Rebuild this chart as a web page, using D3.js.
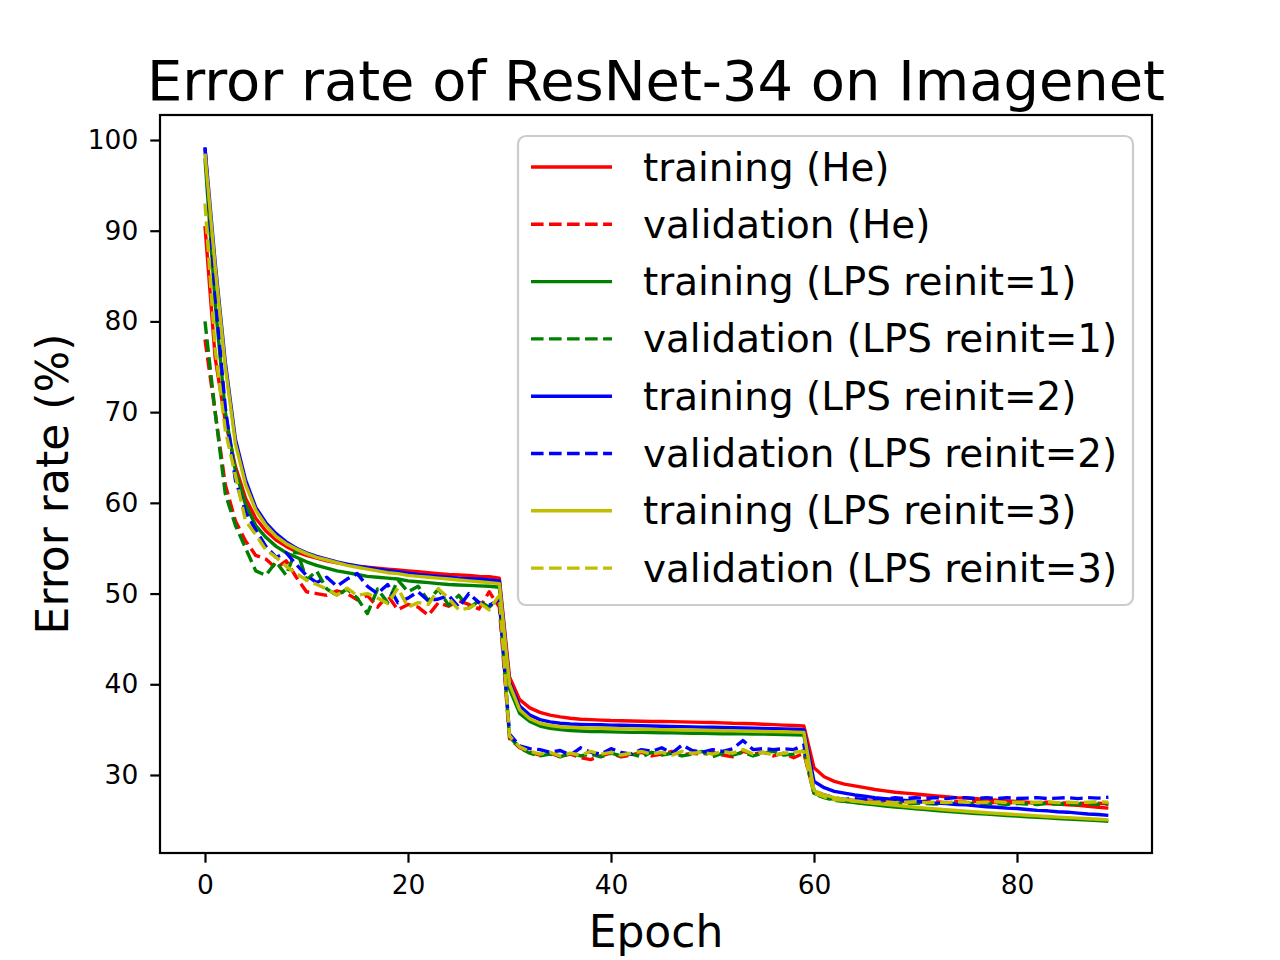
<!DOCTYPE html>
<html>
<head>
<meta charset="utf-8">
<script src="https://cdn.jsdelivr.net/npm/d3@7.9.0/dist/d3.min.js"></script>
<style>
  body { margin: 0; background: #fff; }
  svg { display: block; font-family: "DejaVu Sans", sans-serif; }
</style>
</head>
<body>
<svg id="chart" width="1280" height="960"></svg>
<script>
// epochs 0..89
const epochs = d3.range(90);

const trainHe = [
  90.5, 76, 69, 64, 60.5, 58.3, 56.9, 55.9, 55.2, 54.6, 54.2, 53.9, 53.6, 53.4, 53.2, 53.0, 52.9, 52.8, 52.7, 52.6, 52.5, 52.4, 52.3, 52.2, 52.1, 52.05, 52.0, 51.9, 51.85, 51.7,
  40.8, 38.3, 37.4, 36.9, 36.6, 36.4, 36.25, 36.15, 36.1, 36.05, 36.0, 35.98, 35.95, 35.93, 35.9, 35.9, 35.88, 35.85, 35.83, 35.8, 35.78, 35.75, 35.7, 35.68, 35.65, 35.6, 35.55, 35.5, 35.45, 35.4,
  30.8, 29.8, 29.3, 29.0, 28.8, 28.6, 28.4, 28.25, 28.1, 28.0, 27.9, 27.8, 27.7, 27.6, 27.5, 27.45, 27.38, 27.3, 27.22, 27.15, 27.08, 27.0, 26.93, 26.86, 26.8, 26.72, 26.65, 26.55, 26.45, 26.35
];
const valHe = [
  78, 70, 62, 58, 55.8, 54.2, 53.8, 52.8, 53.6, 51.8, 50.2, 50.0, 49.8, 50.3, 50.0, 49.3, 49.8, 48.5, 49.8, 48.2, 48.8, 48.5, 47.6, 49.0, 48.6, 49.2, 48.8, 48.3, 50.2, 48.5,
  34.0, 33.0, 32.5, 32.2, 32.4, 32.0, 32.3, 31.9, 31.7, 32.1, 32.4, 32.0, 32.2, 32.5, 32.1, 32.3, 32.6, 32.2, 32.4, 32.3, 32.5, 32.2, 32.0, 32.6, 32.3, 32.5, 32.1, 32.4, 31.9, 32.4,
  28.0, 27.6, 27.4, 27.3, 27.2, 27.15, 27.1, 27.2, 27.05, 27.1, 27.0, 27.1, 27.05, 26.95, 27.05, 27.0, 27.1, 26.95, 27.0, 26.9, 27.0, 26.95, 26.9, 27.0, 26.85, 26.95, 26.9, 26.85, 26.9, 26.8
];
const trainLps1 = [
  98, 82, 70, 63.5, 59.8, 57.5, 56.2, 55.2, 54.5, 54.0, 53.5, 53.1, 52.8, 52.5, 52.3, 52.1, 51.9, 51.8, 51.7, 51.6, 51.4, 51.3, 51.2, 51.1, 51.0, 50.95, 50.9, 50.85, 50.8, 50.7,
  39.5, 36.8, 35.9, 35.4, 35.15, 35.0, 34.9, 34.85, 34.8, 34.78, 34.75, 34.73, 34.7, 34.7, 34.68, 34.65, 34.65, 34.63, 34.6, 34.6, 34.58, 34.55, 34.55, 34.53, 34.5, 34.5, 34.48, 34.45, 34.43, 34.4,
  28.0, 27.55, 27.3, 27.1, 26.95, 26.82, 26.7, 26.58, 26.47, 26.37, 26.27, 26.18, 26.09, 26.0, 25.92, 25.84, 25.76, 25.68, 25.61, 25.54, 25.47, 25.4, 25.33, 25.27, 25.21, 25.15, 25.09, 25.03, 24.97, 24.9
];
const valLps1 = [
  80, 70, 61, 57.5, 55, 52.5, 52.0, 53.5, 52.0, 55.0, 51.5, 52.5, 50.5, 49.8, 50.5, 49.5, 47.8, 50.5, 49.0, 51.5, 50.2, 50.8, 49.2, 50.5, 48.7, 49.8, 48.4, 49.2, 48.5, 49.5,
  34.2, 33.0, 32.4, 32.1, 32.3, 32.0, 32.4, 32.1, 32.3, 32.0, 32.4, 32.1, 32.3, 32.0, 32.5, 32.2, 32.4, 32.1, 32.3, 32.6, 32.0, 32.4, 32.2, 32.5, 32.1, 32.4, 32.6, 32.2, 32.3, 32.7,
  27.9, 27.5, 27.2, 27.1, 27.0, 26.9, 26.95, 26.85, 26.9, 26.8, 26.9, 26.85, 26.8, 26.9, 26.85, 26.8, 26.9, 26.8, 26.85, 26.75, 26.85, 26.8, 26.75, 26.85, 26.8, 26.75, 26.8, 26.85, 26.75, 26.8
];
const trainLps2 = [
  99.1, 86.5, 75.5, 67, 62.5, 59.5, 57.8, 56.6, 55.7, 55.0, 54.5, 54.1, 53.8, 53.5, 53.25, 53.05, 52.85, 52.7, 52.55, 52.4, 52.25, 52.1, 52.0, 51.9, 51.8, 51.7, 51.65, 51.6, 51.5, 51.4,
  40.2, 37.6, 36.6, 36.1, 35.85, 35.7, 35.62, 35.58, 35.55, 35.53, 35.5, 35.48, 35.45, 35.43, 35.4, 35.38, 35.36, 35.33, 35.3, 35.28, 35.26, 35.23, 35.2, 35.18, 35.15, 35.13, 35.1, 35.08, 35.05, 35.0,
  29.3, 28.6, 28.2, 28.0, 27.8, 27.65, 27.5, 27.4, 27.3, 27.2, 27.1, 27.0, 26.9, 26.85, 26.75, 26.7, 26.6, 26.5, 26.45, 26.35, 26.3, 26.2, 26.1, 26.05, 25.95, 25.9, 25.8, 25.7, 25.65, 25.55
];
const valLps2 = [
  99.2, 83, 70.5, 62.5, 59, 57, 55.2, 54.0, 54.5, 53.2, 52.0, 51.2, 51.8, 50.8, 51.6, 52.2, 50.8, 50.0, 51.0, 49.0, 49.5, 50.2, 49.2, 49.4, 49.8, 48.5, 50.0, 49.0, 48.7, 49.3,
  34.5, 33.2, 32.9, 32.8, 32.5, 32.7, 32.2, 33.0, 32.5, 32.3, 32.9, 32.5, 32.3, 32.8, 32.6, 33.0, 32.4, 33.3, 32.7, 32.5, 32.8, 32.6, 32.9, 33.8, 32.8, 32.9, 32.8, 32.9, 32.8, 33.3,
  28.3, 27.8, 27.5, 27.3, 27.4, 27.3, 27.2, 27.3, 27.5, 27.4, 27.5, 27.4, 27.5, 27.4, 27.5, 27.5, 27.4, 27.5, 27.4, 27.5, 27.4, 27.45, 27.5, 27.4, 27.45, 27.5, 27.4, 27.5, 27.45, 27.55
];
const trainLps3 = [
  98.5, 86, 75, 66.5, 62, 59.2, 57.5, 56.3, 55.5, 54.9, 54.4, 54.0, 53.7, 53.4, 53.1, 52.9, 52.7, 52.5, 52.3, 52.2, 52.0, 51.9, 51.8, 51.7, 51.6, 51.5, 51.4, 51.3, 51.2, 51.1,
  40.0, 37.2, 36.2, 35.7, 35.45, 35.32, 35.25, 35.2, 35.17, 35.15, 35.13, 35.1, 35.08, 35.05, 35.03, 35.0, 34.98, 34.96, 34.94, 34.92, 34.9, 34.88, 34.86, 34.84, 34.82, 34.8, 34.78, 34.76, 34.73, 34.7,
  28.3, 27.8, 27.5, 27.3, 27.15, 27.0, 26.88, 26.76, 26.65, 26.55, 26.45, 26.35, 26.26, 26.17, 26.08, 26.0, 25.92, 25.84, 25.77, 25.7, 25.63, 25.56, 25.49, 25.42, 25.36, 25.3, 25.24, 25.18, 25.12, 25.05
];
const valLps3 = [
  93, 77, 68, 63, 58, 56.5, 54.8, 54.0, 53.0, 52.2, 51.5, 51.0, 50.5, 49.8, 50.6, 49.8, 50.0, 49.5, 48.9, 50.6, 48.5, 49.0, 48.8, 50.5, 49.5, 48.2, 48.4, 49.0, 48.2, 49.8,
  34.3, 33.1, 32.6, 32.3, 32.5, 32.1, 32.4, 32.2, 32.6, 32.3, 32.5, 32.2, 32.4, 32.6, 32.3, 32.5, 32.2, 32.6, 32.4, 32.5, 32.3, 32.6, 32.4, 32.8, 32.3, 32.5, 32.2, 32.4, 32.5, 32.6,
  28.0, 27.6, 27.3, 27.2, 27.1, 27.05, 27.0, 27.05, 26.95, 27.0, 27.05, 26.95, 27.0, 26.95, 27.05, 27.0, 26.95, 27.0, 27.05, 26.95, 27.0, 26.95, 27.0, 27.05, 26.95, 27.0, 26.95, 27.0, 27.05, 27.0
];

const seriesLabels = [
  'training (He)', 'validation (He)',
  'training (LPS reinit=1)', 'validation (LPS reinit=1)',
  'training (LPS reinit=2)', 'validation (LPS reinit=2)',
  'training (LPS reinit=3)', 'validation (LPS reinit=3)'
];
const seriesValues = [trainHe, valHe, trainLps1, valLps1, trainLps2, valLps2, trainLps3, valLps3];
const seriesColors = ['#ff0000', '#ff0000', '#008000', '#008000', '#0000ff', '#0000ff', '#bfbf00', '#bfbf00'];
const seriesDashed = [false, true, false, true, false, true, false, true];

const xTicks = [0, 20, 40, 60, 80];
const yTicks = [30, 40, 50, 60, 70, 80, 90, 100];

const svg = d3.select('#chart');
const plot = { left: 160, right: 1152, top: 115, bottom: 853 };

let x = d3.scaleLinear()
  .domain([-4.433, 93.3])
  .range([plot.left, plot.right]);

let y = d3.scaleLinear()
  .domain([21.4, 102.756])
  .range([plot.bottom, plot.top]);

const lw = 3.4;
const dash = `${3.7 * lw},${1.6 * lw}`;

svg.append('clipPath')
  .attr('id', 'clip')
  .append('rect')
  .attr('x', plot.left)
  .attr('y', plot.top)
  .attr('width', plot.right - plot.left)
  .attr('height', plot.bottom - plot.top);

let lineGenerator = d3.line()
  .x((d, i) => x(epochs[i]))
  .y(d => y(d));

svg.append('g')
  .attr('clip-path', 'url(#clip)')
  .selectAll('path')
  .data(seriesValues)
  .join('path')
  .attr('d', lineGenerator)
  .attr('fill', 'none')
  .attr('stroke', (d, i) => seriesColors[i])
  .attr('stroke-width', lw)
  .attr('stroke-linejoin', 'round')
  .attr('stroke-dasharray', (d, i) => seriesDashed[i] ? dash : null);

// axes
const xAxis = svg.append('g')
  .attr('transform', `translate(0,${plot.bottom})`)
  .call(d3.axisBottom(x).tickValues(xTicks).tickSize(9.7).tickPadding(12));
const yAxis = svg.append('g')
  .attr('transform', `translate(${plot.left},0)`)
  .call(d3.axisLeft(y).tickValues(yTicks).tickSize(9.7).tickPadding(12));

[xAxis, yAxis].forEach(ax => {
  ax.select('.domain').remove();
  ax.selectAll('line').attr('stroke', '#000').attr('stroke-width', 2.2);
  ax.selectAll('text')
    .attr('fill', '#000')
    .style('font-family', '"DejaVu Sans", sans-serif')
    .style('font-size', '26.5px');
});

// frame
svg.append('rect')
  .attr('x', plot.left)
  .attr('y', plot.top)
  .attr('width', plot.right - plot.left)
  .attr('height', plot.bottom - plot.top)
  .attr('fill', 'none')
  .attr('stroke', '#000')
  .attr('stroke-width', 2.2);

// title and labels
svg.append('text')
  .attr('x', (plot.left + plot.right) / 2)
  .attr('y', 100)
  .attr('text-anchor', 'middle')
  .style('font-size', '55.9px')
  .text('Error rate of ResNet-34 on Imagenet');

svg.append('text')
  .attr('x', (plot.left + plot.right) / 2)
  .attr('y', 947)
  .attr('text-anchor', 'middle')
  .style('font-size', '44px')
  .text('Epoch');

svg.append('text')
  .attr('transform', `translate(68,${(plot.top + plot.bottom) / 2}) rotate(-90)`)
  .attr('text-anchor', 'middle')
  .style('font-size', '44px')
  .text('Error rate (%)');

// legend
const legend = svg.append('g');
legend.append('rect')
  .attr('x', 518)
  .attr('y', 136)
  .attr('width', 615)
  .attr('height', 469)
  .attr('rx', 8)
  .attr('fill', '#fff')
  .attr('fill-opacity', 0.8)
  .attr('stroke', '#cccccc')
  .attr('stroke-width', 2.2);

const rows = legend.selectAll('g.row')
  .data(seriesLabels)
  .join('g')
  .attr('class', 'row')
  .attr('transform', (d, i) => `translate(0,${167 + i * 57.3})`);

rows.append('line')
  .attr('x1', 531)
  .attr('x2', 612)
  .attr('stroke', (d, i) => seriesColors[i])
  .attr('stroke-width', lw)
  .attr('stroke-dasharray', (d, i) => seriesDashed[i] ? dash : null);

rows.append('text')
  .attr('x', 643)
  .attr('y', 13.5)
  .style('font-size', '38.9px')
  .text(d => d);
</script>
</body>
</html>
